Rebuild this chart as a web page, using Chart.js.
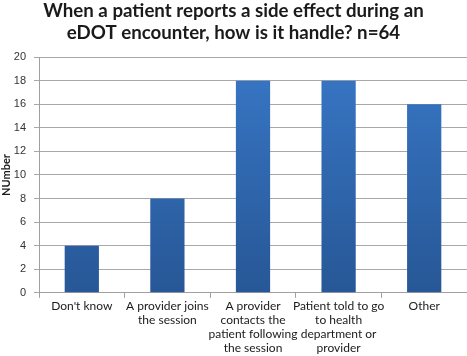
<!DOCTYPE html>
<html><head><meta charset="utf-8">
<script src="https://cdn.jsdelivr.net/npm/chart.js@4"></script>
<style>html,body{margin:0;padding:0;background:#fff}#w{width:467px;height:356px}</style>
</head><body><div id="w"><canvas id="c"></canvas></div>
<script>
const categories = [["Don't know"],["A provider joins","the session"],["A provider","contacts the","patient following","the session"],["Patient told to go","to health","department or","provider"],["Other"]];
const values = [4, 8, 18, 18, 16];
const yTicks = [0,2,4,6,8,10,12,14,16,18,20];
const titleLines = ["When a patient reports a side effect during an","eDOT encounter, how is it handle? n=64"];
const yTitle = "NUmber";

function grad(ctx){
  const ch = ctx.chart, a = ch.chartArea;
  if(!a) return '#2f6bb5';
  const g = ch.ctx.createLinearGradient(0, a.top, 0, a.bottom);
  g.addColorStop(0, '#3877c6');
  g.addColorStop(1, '#275796');
  return g;
}
new Chart(document.getElementById('c'), {
  type:'bar',
  data:{labels:categories, datasets:[{data:values, backgroundColor:grad, barPercentage:0.8, categoryPercentage:0.5}]},
  options:{
    responsive:true, maintainAspectRatio:false, animation:false,
    layout:{padding:{left:0,right:0,top:0,bottom:0}},
    plugins:{legend:{display:false}, tooltip:{enabled:false},
      title:{display:true, text:titleLines, color:'#1a1a1a', font:{family:'Lato', size:18.7, weight:'bold', lineHeight:1.18}, padding:{top:0,bottom:13}}},
    scales:{
      x:{grid:{display:true, drawOnChartArea:false, drawTicks:true, tickLength:5, color:'#a0a0a0', offset:true},
         border:{color:'#a0a0a0'},
         ticks:{color:'#1a1a1a', font:{family:'Lato', size:12, lineHeight:1.17}, maxRotation:0, autoSkip:false, padding:1}},
      y:{min:0, max:20, afterBuildTicks(s){s.ticks = yTicks.map(v=>({value:v}));},
         afterFit(s){s.width = 39;},
         grid:{color:'#a8a8a8', tickLength:5, drawTicks:true},
         border:{color:'#a0a0a0'},
         ticks:{color:'#333', font:{family:'Liberation Sans', size:11}, padding:8},
         title:{display:true, text:yTitle, color:'#1a1a1a', font:{family:'Lato', size:11, weight:'bold'}, padding:{top:0,bottom:0}}}
    }
  }
});
</script></body></html>
